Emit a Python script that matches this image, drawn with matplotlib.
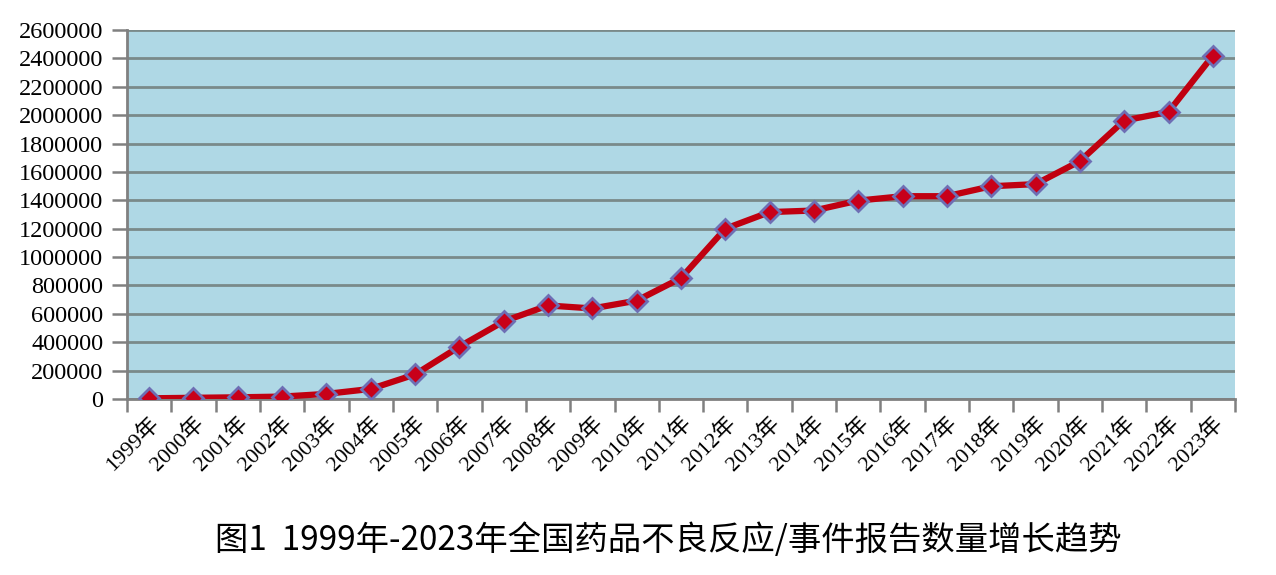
import matplotlib
matplotlib.use("Agg")
import matplotlib.pyplot as plt
import numpy as np

years = ["1999年", "2000年", "2001年", "2002年", "2003年", "2004年", "2005年", "2006年",
         "2007年", "2008年", "2009年", "2010年", "2011年", "2012年", "2013年", "2014年",
         "2015年", "2016年", "2017年", "2018年", "2019年", "2020年", "2021年", "2022年", "2023年"]
reports = [5000, 8500, 12000, 17000, 36000, 71000, 173000, 369000,
           547000, 659000, 638000, 693000, 852000, 1200000, 1317000, 1328000,
           1398000, 1429000, 1429000, 1499000, 1514000, 1676000, 1962000, 2023000, 2419000]
yticks = list(range(0, 2600001, 200000))
title = "图1  1999年-2023年全国药品不良反应/事件报告数量增长趋势"

serif = ["Liberation Serif", "Noto Sans CJK SC", "DejaVu Sans"]

fig = plt.figure(figsize=(12.76, 5.75), dpi=100)
ax = fig.add_axes([127/1276, 1-399/575, (1235-127)/1276, (399-30)/575])
ax.set_facecolor("#AFD8E5")

x = np.arange(len(years))
ax.plot(x, reports, color="#C00010", lw=4.5, marker="D", markersize=10.5,
        markerfacecolor="#C8001A", markeredgecolor="#6E6EB4", markeredgewidth=2,
        zorder=3, solid_joinstyle="round")

ax.set_xlim(-0.5, len(years) - 0.5)
ax.set_ylim(0, 2600000)
ax.set_yticks(yticks)
ax.set_yticklabels([str(v) for v in yticks], fontfamily=serif, fontsize=17.5)
ax.yaxis.grid(True, color="#7A8A8A", lw=2)
ax.set_axisbelow(True)

ax.set_xticks(x)
ax.set_xticklabels(years, rotation=45, ha="right", rotation_mode="anchor",
                   fontfamily=serif, fontsize=16)
ax.tick_params(axis="x", which="major", length=0, pad=10)
ax.set_xticks(np.arange(-0.5, len(years), 1), minor=True)
ax.tick_params(axis="x", which="minor", length=9, width=1.8, color="#808080")
ax.tick_params(axis="y", length=11, width=1.8, color="#808080", pad=6)

for s in ["top", "right"]:
    ax.spines[s].set_visible(False)
for s in ["left", "bottom"]:
    ax.spines[s].set_color("#808080")
    ax.spines[s].set_linewidth(2)

fig.text(668/1276, 1-541/575, title, ha="center", va="center", fontsize=24,
         fontfamily=["Noto Sans CJK SC", "DejaVu Sans"])

fig.savefig("out.png", dpi=100, facecolor="white")
